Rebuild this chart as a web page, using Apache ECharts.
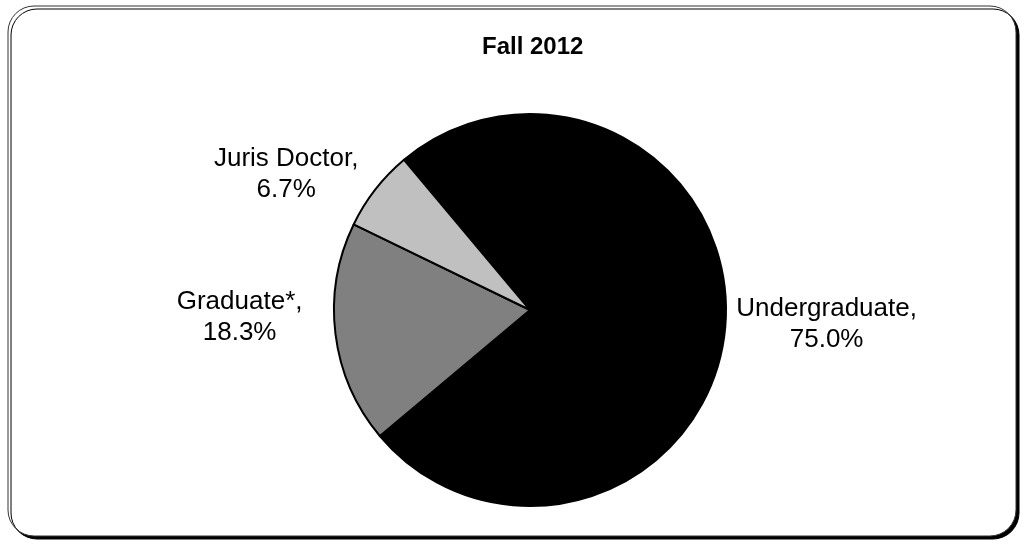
<!DOCTYPE html>
<html>
<head>
<meta charset="utf-8">
<script src="https://cdn.jsdelivr.net/npm/echarts@6/dist/echarts.min.js"></script>
<style>
html,body{margin:0;padding:0;background:#fff;}
#chart{width:1024px;height:545px;}
</style>
</head>
<body>
<div id="chart"></div>
<script>
// Data
const categories = ['Undergraduate', 'Graduate*', 'Juris Doctor'];
const percents = [75.0, 18.3, 6.7];
const titleText = 'Fall 2012';

// Styling (kept separate from data)
const sliceColors = ['#000000', '#808080', '#c0c0c0'];
const labelNudgeX = [6, -28, -12];
const labelNudgeY = [-3, -17, -15];
const FONT = '"Liberation Sans", Arial, sans-serif';

const chart = echarts.init(document.getElementById('chart'), null, {renderer: 'canvas'});

const seriesData = categories.map((name, i) => ({
  name: name,
  value: percents[i],
  itemStyle: { color: sliceColors[i] }
}));

chart.setOption({
  animation: false,
  backgroundColor: '#ffffff',
  graphic: [{
    type: 'rect',
    z: -10,
    shape: { x: 8, y: 6, width: 1008, height: 530, r: 26 },
    style: {
      fill: '#ffffff',
      stroke: '#333333',
      lineWidth: 1,
      shadowColor: '#000000',
      shadowOffsetX: 3,
      shadowOffsetY: 3,
      shadowBlur: 0
    }
  }],
  title: {
    text: titleText,
    left: 482,
    top: 35,
    padding: 0,
    textStyle: { fontFamily: FONT, fontSize: 24, fontWeight: 'bold', color: '#000' }
  },
  series: [{
    type: 'pie',
    center: [530, 310],
    radius: 196,
    startAngle: 130,
    clockwise: true,
    avoidLabelOverlap: false,
    emphasis: { disabled: true },
    itemStyle: { borderColor: '#000', borderWidth: 2 },
    labelLine: { show: false, length: 0, length2: 0 },
    label: {
      show: true,
      position: 'outside',
      formatter: function (p) {
        return '{c|' + p.name + ',}\n{c|' + p.value.toFixed(1) + '%}';
      },
      rich: {
        c: { align: 'center', fontFamily: FONT, fontSize: 26, lineHeight: 31, color: '#000' }
      }
    },
    labelLayout: function (params) {
      return { dx: labelNudgeX[params.dataIndex], dy: labelNudgeY[params.dataIndex] };
    },
    data: seriesData
  }]
});
</script>
</body>
</html>
